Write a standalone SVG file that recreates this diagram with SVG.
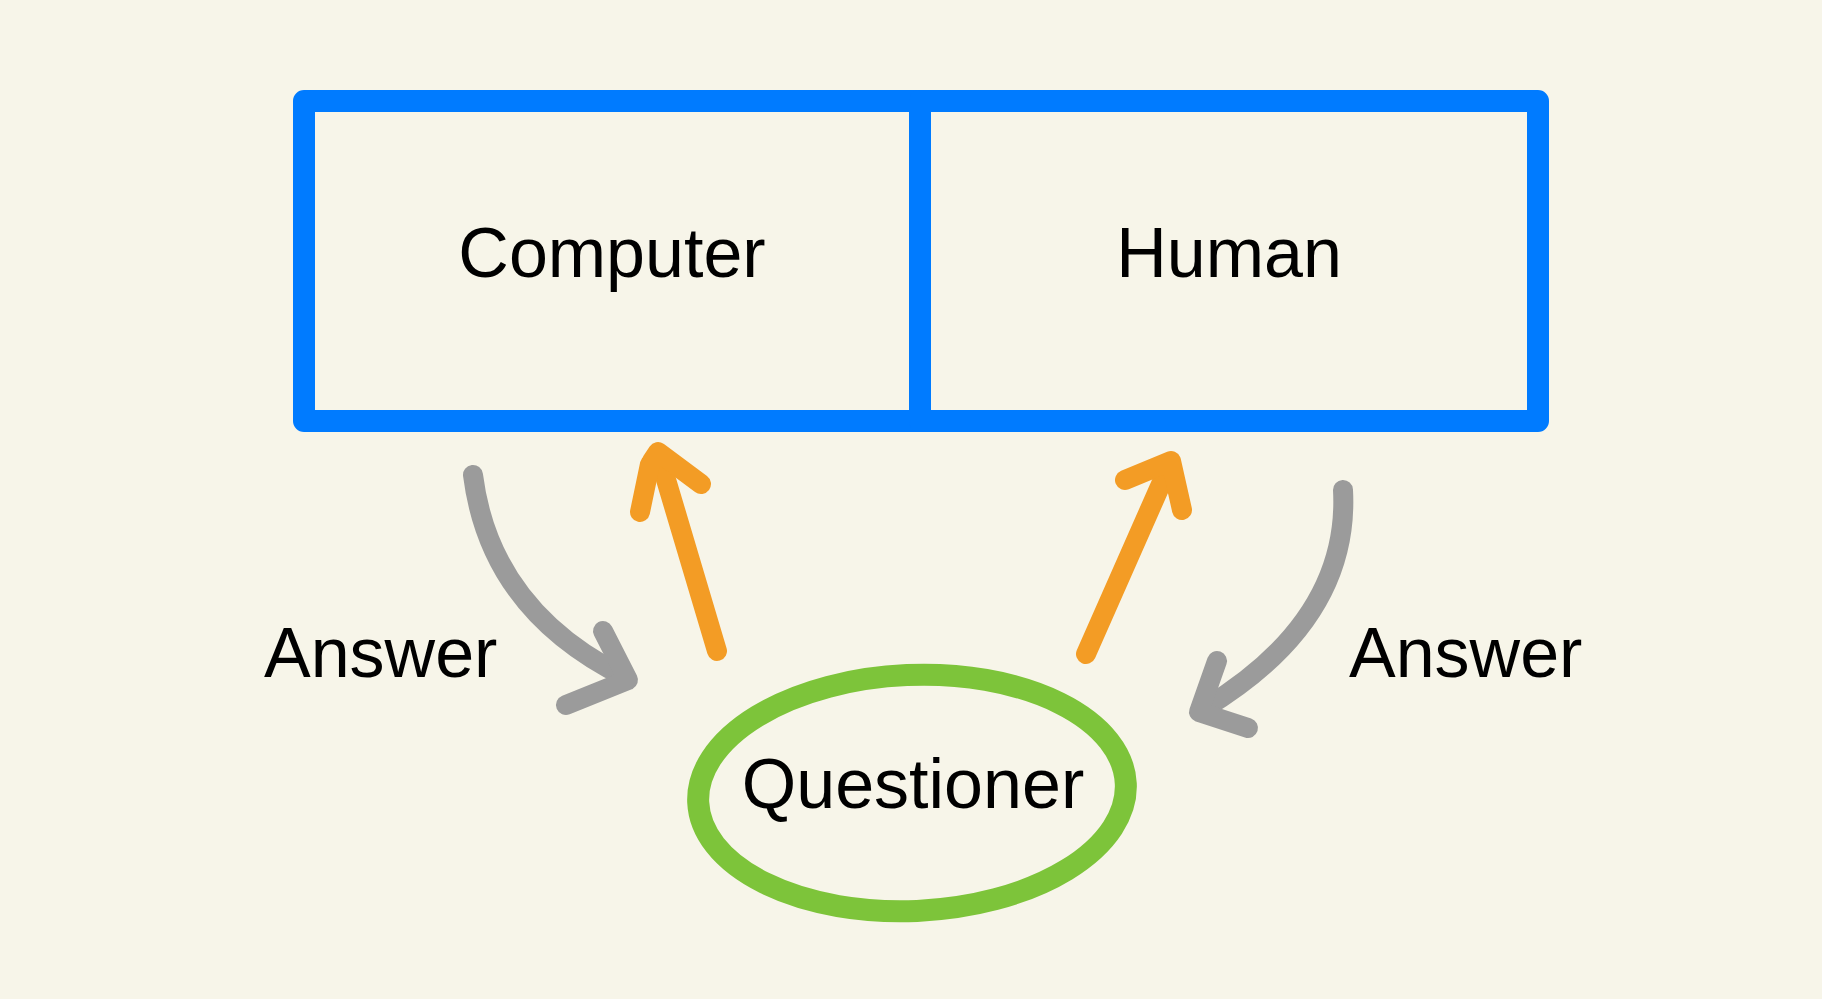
<svg xmlns="http://www.w3.org/2000/svg" width="1822" height="999" viewBox="0 0 1822 999">
<style>
.lbl{font-family:"Liberation Sans",Arial,Helvetica,sans-serif;font-size:70px;fill:#000}
.box{fill:none;stroke:#007BFF;stroke-width:22;stroke-linejoin:round}
.ans{fill:none;stroke:#9B9B9B;stroke-width:20;stroke-linecap:round;stroke-linejoin:round}
.q{fill:none;stroke:#F39C25;stroke-width:20;stroke-linecap:round;stroke-linejoin:round}
</style>
<rect width="1822" height="999" fill="#F7F5E9"/>
<g id="computer">
<rect class="box" x="304" y="101" width="616" height="320"/>
<text class="lbl" x="612" y="277" text-anchor="middle">Computer</text>
</g>
<g id="human">
<rect class="box" x="920" y="101" width="618" height="320"/>
<text class="lbl" x="1229" y="277" text-anchor="middle">Human</text>
</g>
<g id="questioner">
<ellipse cx="912" cy="793" rx="214" ry="118" fill="none" stroke="#7DC43A" stroke-width="22" transform="rotate(-2.5 912 793)"/>
<text class="lbl" x="913" y="808" text-anchor="middle">Questioner</text>
</g>
<g id="connectors">
<path class="ans" d="M473,475 Q490,610 625,677"/>
<path class="ans" d="M603,631 L628,680 L566,705"/>
<path class="q" d="M717,651 L659,456"/>
<path class="q" d="M640,512 L650,464 M652,461 L658,452 L701,484"/>
<path class="q" d="M1086,654 L1169,466"/>
<path class="q" d="M1125,480 L1171,461 L1182,510"/>
<path class="ans" d="M1343,490 Q1350,620 1205,708"/>
<path class="ans" d="M1217,661 L1199,712 L1248,728"/>
</g>
<text class="lbl" x="264" y="677">Answer</text>
<text class="lbl" x="1349" y="677">Answer</text>
</svg>
